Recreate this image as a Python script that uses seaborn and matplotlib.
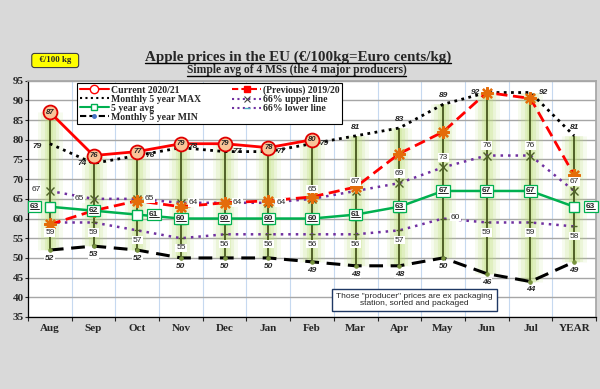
import numpy as np
import pandas as pd
import matplotlib
matplotlib.use('Agg')
from matplotlib import pyplot as plt
from matplotlib.lines import Line2D
import seaborn as sns

months = ['Aug', 'Sep', 'Oct', 'Nov', 'Dec', 'Jan', 'Feb', 'Mar', 'Apr', 'May', 'Jun', 'Jul', 'YEAR']
current = [87, 76, 77, 79, 79, 78, 80]
previous = [58.5, 62, 64.5, 63, 64, 64.5, 65.5, 68, 76.5, 82, 92, 90.5, 71]
max_5y = [79, 74, 76, 78, 77, 77, 79, 81, 83, 89, 92, 92, 81]
upper_66 = [67, 65, 65, 64, 64, 64, 65, 67, 69, 73, 76, 76, 67]
avg_5y = [63, 62, 61, 60, 60, 60, 60, 61, 63, 67, 67, 67, 63]
lower_66 = [59, 59, 57, 55, 56, 56, 56, 56, 57, 60, 59, 59, 58]
min_5y = [52, 53, 52, 50, 50, 50, 49, 48, 48, 50, 46, 44, 49]

x = np.arange(len(months))

sns.set_theme(style='white')
plt.rcParams['font.family'] = ['Liberation Serif', 'DejaVu Serif']

fig = plt.figure(figsize=(6, 3.89), dpi=100, facecolor='#d9d9d9')
ax = fig.add_axes([28 / 600, 1 - 317 / 389, 568 / 600, 236.3 / 389])
ax.set_facecolor('white')

# high-low lines with green glow
all_vals = pd.DataFrame({'prev': previous, 'max': max_5y, 'up': upper_66, 'avg': avg_5y,
                         'low': lower_66, 'min': min_5y})
all_vals['cur'] = pd.Series(current)
top = all_vals.max(axis=1).values
bot = all_vals.min(axis=1).values
for lw, a in [(18, 0.12), (13, 0.18), (8, 0.25), (4, 0.3)]:
    ax.vlines(x, bot, top, colors='#bddf78', lw=lw, alpha=a, zorder=1)
ax.vlines(x, bot, top, colors='#3b4a12', lw=1.2, zorder=2)

handles = {}
sns.lineplot(x=x[:len(current)], y=current, ax=ax, color='#ff0000', lw=2, marker='o', ms=10,
             mfc='#f9c498', mec='#e00000', mew=1.3, zorder=6)
handles['Current 2020/21'] = Line2D([], [], color='#ff0000', lw=1.5, marker='o', ms=6, mfc='white', mec='#ff0000')
sns.lineplot(x=x, y=previous, ax=ax, color='#ff0000', lw=2, linestyle=(0, (4, 2)), marker=(8, 2, 0), ms=9,
             mec='#e46c0a', mew=1.6, zorder=5)
handles['(Previous) 2019/20'] = Line2D([], [], color='#ff0000', lw=1.5, linestyle=(0, (3, 1.5)), marker='s', ms=4,
                                       mfc='#ff0000', mec='#ff0000')
sns.lineplot(x=x, y=max_5y, ax=ax, color='black', lw=2, linestyle=(0, (1, 1.6)), zorder=4)
handles['Monthly 5 year MAX'] = Line2D([], [], color='black', lw=1.5, linestyle=(0, (1, 1.6)))
sns.lineplot(x=x, y=upper_66, ax=ax, color='#7030a0', lw=1.8, linestyle=(0, (1, 2)), marker='x', ms=6,
             mec='#4f6228', mew=1, zorder=4)
handles['66% upper line'] = Line2D([], [], color='#7030a0', lw=1.5, linestyle=(0, (1, 1.6)), marker='x', ms=4,
                                   mec='#404040', mew=0.8)
sns.lineplot(x=x, y=avg_5y, ax=ax, color='#00b050', lw=1.8, marker='s', ms=7, mfc='white', mec='#00b050',
             mew=1, zorder=5)
handles['5 year avg'] = Line2D([], [], color='#00b050', lw=1.5, marker='s', ms=5, mfc='white', mec='#00b050')
sns.lineplot(x=x, y=lower_66, ax=ax, color='#7030a0', lw=1.8, linestyle=(0, (1, 2)), marker='_', ms=4,
             mec='#4f6228', mew=1, zorder=4)
handles['66% lower line'] = Line2D([], [], color='#7030a0', lw=1.5, linestyle=(0, (1, 1.6)), marker='_', ms=4,
                                   mec='#4bacc6', mew=1)
sns.lineplot(x=x, y=min_5y, ax=ax, color='black', lw=2.2, linestyle=(0, (4.5, 2.5)), marker='o', ms=2.5,
             mfc='#77933c', mec='#77933c', zorder=4)
handles['Monthly 5 year MIN'] = Line2D([], [], color='black', lw=1.5, linestyle=(0, (3, 1.5)), marker='o', ms=2.5,
                                       mfc='#4472c4', mec='#4472c4')

white = dict(boxstyle='square,pad=0.1', fc='white', ec='none')
num_kw = dict(fontsize=6, ha='center', va='center', textcoords='offset points', zorder=8)

# MAX labels
max_off = [(-9, -2), (-8, 0), (9, 0), (9, 1), (9, 0), (9, 0), (9, 0),
           (0, 6), (0, 6), (0, 6), (-8, 0), (9, 0), (0, 6)]
for i, v in enumerate(max_5y):
    ax.annotate(str(v), (x[i], v), xytext=max_off[i], fontweight='bold', style='italic',
                family=['Liberation Sans'], **num_kw)

# upper 66% labels
up_off = [(-10, 1), (-10, 0), (9, 0), (9, 0), (9, 0), (9, 0), (0, 7),
          (0, 7), (0, 7), (0, 7), (0, 7), (0, 7), (0, 7)]
for i, v in enumerate(upper_66):
    ax.annotate(str(v), (x[i], v), xytext=up_off[i], color='#262626', bbox=white,
                family=['Liberation Sans'], **num_kw)

# lower 66% labels
for i, v in enumerate(lower_66):
    off = (9, 1) if months[i] == 'May' else (0, -7)
    ax.annotate(str(v), (x[i], v), xytext=off, color='#262626', bbox=white,
                family=['Liberation Sans'], **num_kw)

# MIN labels
for i, v in enumerate(min_5y):
    ax.annotate(str(v), (x[i], v), xytext=(0, -6), fontweight='bold', style='italic', bbox=white,
                family=['Liberation Sans'], **num_kw)

# current labels inside circles
for i, v in enumerate(current):
    ax.annotate(str(v), (x[i], v), xytext=(0, 0), fontweight='bold', style='italic', fontsize=5.5,
                ha='center', va='center', textcoords='offset points', zorder=9, family=['Liberation Sans'])

# 5 year avg labels in green boxes
avg_box = dict(boxstyle='square,pad=0.25', fc='white', ec='#00b050', lw=0.9)
avg_texts = []
for i, v in enumerate(avg_5y):
    off = (0, 0)
    if months[i] == 'Aug':
        off = (-11, 0)
    elif months[i] in ('Oct', 'YEAR'):
        off = (12, 0)
    t = ax.annotate(str(v), (x[i], v), xytext=off, fontweight='bold', bbox=avg_box,
                    family=['Liberation Sans'], **num_kw)
    avg_texts.append(t)

ax.set_ylim(35, 95)
ax.set_xlim(-0.5, len(months) - 0.5)
ax.set_yticks(np.arange(35, 96, 5))
ax.set_xticks(x, months)
ax.set_xticks(np.arange(-0.5, len(months), 1), minor=True)
ax.grid(True, axis='y', color='#a6a6a6', lw=1)
ax.grid(True, axis='x', which='minor', color='#c6d9f0', lw=0.8)
ax.grid(False, axis='x', which='major')
ax.set_axisbelow(True)
ax.tick_params(axis='y', labelsize=8, length=2, width=0.8, left=True, pad=1)
ax.tick_params(axis='x', which='major', labelsize=8, length=0, pad=5)
ax.tick_params(axis='x', which='minor', length=3, width=0.8, bottom=True)
for lab in ax.get_xticklabels() + ax.get_yticklabels():
    lab.set_fontweight('bold')
for s in ['left', 'bottom']:
    ax.spines[s].set_color('black')
    ax.spines[s].set_linewidth(0.9)
for s in ['top', 'right']:
    ax.spines[s].set_color('#a6a6a6')

order = ['Current 2020/21', 'Monthly 5 year MAX', '5 year avg', 'Monthly 5 year MIN',
         '(Previous) 2019/20', '66% upper line', '66% lower line']
leg = ax.legend([handles[k] for k in order], order, ncol=2, loc='upper left', bbox_to_anchor=(0.087, 0.99),
                prop=dict(family='Liberation Serif', weight='bold', size=7), frameon=True, fancybox=False,
                edgecolor='black', framealpha=1, borderpad=0.25, labelspacing=0.0, handlelength=3,
                handletextpad=0.2, columnspacing=3.2, borderaxespad=0)
leg.get_frame().set_linewidth(0.8)
leg.set_zorder(10)

ax.text(0.68, 0.072, 'Those "producer" prices are ex packaging\nstation, sorted and packaged',
        transform=ax.transAxes, ha='center', va='center', fontsize=6, family=['Liberation Sans'],
        linespacing=1.1, zorder=10,
        bbox=dict(boxstyle='square,pad=0.5', fc='white', ec='#1f3864', lw=1))

title = fig.text(0.497, 1 - 57 / 389, 'Apple prices in the EU (€/100kg=Euro cents/kg)', ha='center',
                 va='center', fontsize=10.8, fontweight='bold')
subtitle = fig.text(0.494, 1 - 70.5 / 389, 'Simple avg of 4 MSs (the 4 major producers)', ha='center',
                    va='center', fontsize=8.3, fontweight='bold')
fig.text(0.092, 1 - 60.5 / 389, '  €/100 kg  ', ha='center', va='center', fontsize=6.3, fontweight='bold',
         bbox=dict(boxstyle='round,pad=0.35,rounding_size=0.3', fc='#ffff00', ec='#404040', lw=0.8))

# underline texts
fig.canvas.draw()
inv = fig.transFigure.inverted()
for t in [title, subtitle] + avg_texts:
    bb = t.get_window_extent()
    (x0, y0), (x1, _) = inv.transform([(bb.x0, bb.y0 + 1), (bb.x1, bb.y0)])
    lw = 1 if t in (title, subtitle) else 0.6
    fig.add_artist(Line2D([x0, x1], [y0, y0], color='black', lw=lw, transform=fig.transFigure, zorder=11))

fig.savefig('out.png', dpi=100, facecolor=fig.get_facecolor())
